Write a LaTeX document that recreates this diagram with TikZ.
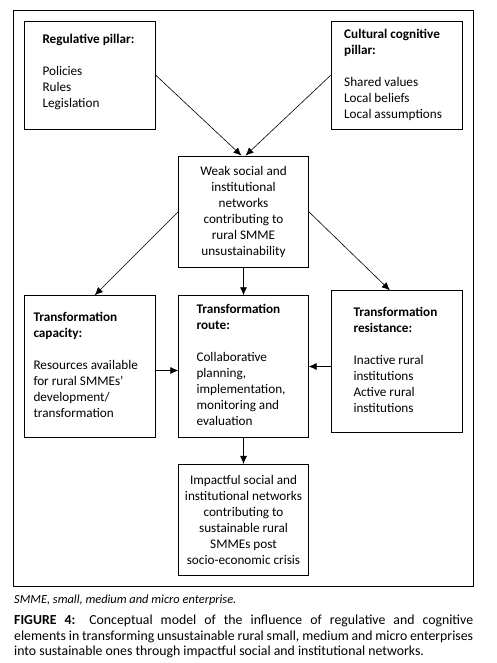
\documentclass[tikz,border=0pt]{standalone}
\usepackage{fontspec}
\setmainfont{Carlito}
\usetikzlibrary{arrows.meta}
\begin{document}
\begin{tikzpicture}[x=1pt,y=-1pt,
  box/.style={draw, line width=0.8pt, rectangle, inner sep=0pt},
  ltxt/.style={inner sep=0pt, font=\fontsize{13.2}{16}\selectfont, align=left, anchor=base west},
  ctxt/.style={inner sep=0pt, font=\fontsize{13.2}{16}\selectfont, align=center, anchor=base},
  arr/.style={line width=0.6pt, -{Latex[length=8pt,width=7pt]}}]
\useasboundingbox (0,0) rectangle (496,663);
\fill[white] (0,0) rectangle (496,663);
% frame
\node[box, minimum width=460pt, minimum height=576pt] (frame) at (243,298) {};
% boxes
\node[box, minimum width=131.5pt, minimum height=107.3pt] (reg) at (89.75,75.35) {};
\node[box, minimum width=131.7pt, minimum height=107.3pt] (cult) at (396.85,75.35) {};
\node[box, minimum width=129.6pt, minimum height=111.3pt] (weak) at (243.5,211.65) {};
\node[box, minimum width=131.5pt, minimum height=141.6pt] (cap) at (89.75,366.5) {};
\node[box, minimum width=129.6pt, minimum height=141.6pt] (route) at (243.5,366.5) {};
\node[box, minimum width=131.7pt, minimum height=141.6pt] (res) at (396.85,361.5) {};
\node[box, minimum width=129.6pt, minimum height=111pt] (imp) at (243.5,519.8) {};
% texts (anchor = baseline of the last line)
\node[ltxt] (regt) at (42.3,107.7) {\textbf{Regulative pillar:}\\[16pt]Policies\\Rules\\Legislation};
\node[ltxt] (cultt) at (344,118.7) {\textbf{Cultural cognitive}\\\textbf{pillar:}\\[16pt]Shared values\\Local beliefs\\Local assumptions};
\node[ctxt] (weakt) at (243.5,255.7) {Weak social and\\institutional\\networks\\contributing to\\rural SMME\\unsustainability};
\node[ltxt] (capt) at (33.3,417.3) {\textbf{Transformation}\\\textbf{capacity:}\\[16pt]Resources available\\for rural SMMEs'\\development/\\transformation};
\node[ltxt] (routet) at (196.3,425.7) {\textbf{Transformation}\\\textbf{route:}\\[16pt]Collaborative\\planning,\\implementation,\\monitoring and\\evaluation};
\node[ltxt] (rest) at (353.3,412.7) {\textbf{Transformation}\\\textbf{resistance:}\\[16pt]Inactive rural\\institutions\\Active rural\\institutions};
\node[ctxt] (impt) at (243.5,564) {Impactful social and\\institutional networks\\contributing to\\sustainable rural\\SMMEs post\\socio-economic crisis};
% connectors
\draw[arr] (reg.east) -- ([xshift=-2pt]weak.north);
\draw[arr] (cult.west) -- ([xshift=2pt]weak.north);
\draw[arr] (weak.west) -- ([xshift=5pt]cap.north);
\draw[arr] (weak.south) -- (route.north);
\draw[arr] (weak.east) -- ([xshift=-7pt]res.north);
\draw[arr] ([yshift=-4pt]cap.east) -- ([yshift=-4pt]route.west);
\draw[arr] (res.west |- route.east) -- (route.east);
\draw[arr] (route.south) -- (imp.north);
% captions
\node[inner sep=0pt, anchor=base west, font=\fontsize{12.4}{15}\selectfont\itshape] (abbr) at (14,603) {SMME, small, medium and micro enterprise.};
\node[inner sep=0pt, anchor=base west, text width=459pt, align=justify, font=\fontsize{13.8}{15.7}\selectfont] (cap4) at (14,624.5) {\textbf{FIGURE 4:} Conceptual model of the influence of regulative and cognitive\linebreak elements in transforming unsustainable rural small, medium and micro enterprises\linebreak into sustainable ones through impactful social and institutional networks.};
\end{tikzpicture}
\end{document}
